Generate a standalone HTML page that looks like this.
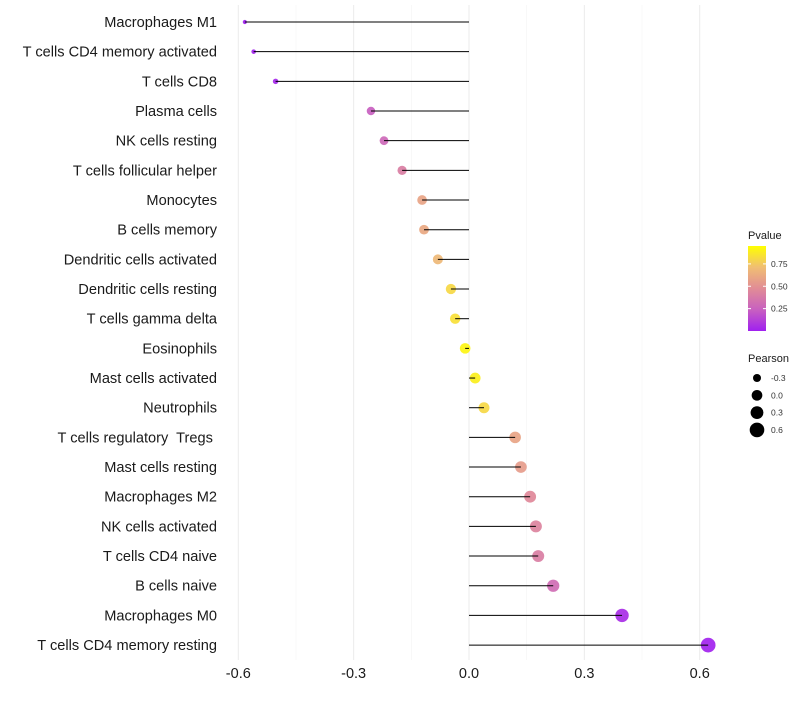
<!DOCTYPE html>
<html><head><meta charset="utf-8"><style>
body{margin:0;background:#fff;font-family:"Liberation Sans",sans-serif}
text{white-space:pre}
</style></head><body>
<svg id="chart" width="800" height="700" xmlns="http://www.w3.org/2000/svg" font-family="Liberation Sans, sans-serif"></svg>
<script>
const categories=["Macrophages M1","T cells CD4 memory activated","T cells CD8","Plasma cells","NK cells resting","T cells follicular helper","Monocytes","B cells memory","Dendritic cells activated","Dendritic cells resting","T cells gamma delta","Eosinophils","Mast cells activated","Neutrophils","T cells regulatory  Tregs ","Mast cells resting","Macrophages M2","NK cells activated","T cells CD4 naive","B cells naive","Macrophages M0","T cells CD4 memory resting"];
const pearson=[-0.583,-0.56,-0.503,-0.255,-0.221,-0.174,-0.122,-0.117,-0.081,-0.047,-0.036,-0.010,0.016,0.039,0.12,0.135,0.159,0.174,0.18,0.219,0.398,0.622];
const pvalue=[0.0,0.01,0.03,0.25,0.3,0.42,0.62,0.64,0.72,0.85,0.88,0.96,0.94,0.85,0.62,0.58,0.48,0.45,0.42,0.32,0.05,0.01];
const xTicks=[-0.6,-0.3,0.0,0.3,0.6];
const xTickLabels=["-0.6","-0.3","0.0","0.3","0.6"];
const legendPvals=[0.25,0.5,0.75];
const legendSizes=[-0.3,0.0,0.3,0.6];

const svg=document.getElementById('chart');
const NS="http://www.w3.org/2000/svg";
function mk(t,a,p){const e=document.createElementNS(NS,t);for(const k in a)e.setAttribute(k,a[k]);(p||svg).appendChild(e);return e;}
const xs=v=>469+v*384.5;
const ys=i=>22+i*29.67;
const rs=v=>Math.sqrt(Math.max(3,28.5+v*41.5));
const stops=[[0,[160,32,240]],[0.25,[200,96,192]],[0.5,[225,140,150]],[0.75,[240,190,115]],[1,[255,255,0]]];
function col(p){for(let i=0;i<stops.length-1;i++){const a=stops[i],b=stops[i+1];if(p<=b[0]){const t=(p-a[0])/(b[0]-a[0]);const c=a[1].map((v,j)=>Math.round(v+(b[1][j]-v)*t));return`rgb(${c})`;}}return'rgb(255,255,0)';}

for(let k=0;k<xTicks.length;k++){
  const g=mk('line',{x1:xs(xTicks[k]),x2:xs(xTicks[k]),y1:5,y2:660,stroke:'#ebebeb','stroke-width':1});
  
  if(k<xTicks.length-1){const m=(xTicks[k]+xTicks[k+1])/2;
    const g2=mk('line',{x1:xs(m),x2:xs(m),y1:5,y2:660,stroke:'#f4f4f4','stroke-width':0.6});
    }
  const t=mk('text',{x:xs(xTicks[k]),y:678,'text-anchor':'middle','font-size':14.5,fill:'#1a1a1a'});
  t.textContent=xTickLabels[k];
  
}
categories.forEach((c,i)=>{
  const y=ys(i);
  const t=mk('text',{x:217,y:y+5,'text-anchor':'end','font-size':14.6,fill:'#1a1a1a'});
  t.textContent=c;
  
  const d=mk('circle',{cx:xs(pearson[i]),cy:y,r:rs(pearson[i]),fill:col(pvalue[i]),'fill-opacity':0.92});
  
  const l=mk('line',{x1:xs(0),x2:xs(pearson[i]),y1:y,y2:y,stroke:'#000','stroke-width':1});
  
});
const lt=mk('text',{x:748,y:239,'font-size':11,fill:'#1a1a1a'});lt.textContent='Pvalue';

const defs=mk('defs',{});const gr=mk('linearGradient',{id:'pg',x1:0,y1:1,x2:0,y2:0},defs);
stops.forEach(s=>mk('stop',{offset:s[0],'stop-color':`rgb(${s[1]})`},gr));
const cb=mk('rect',{x:748,y:246,width:18,height:85,fill:'url(#pg)'});

const pY=p=>331-(p-0.0)*(85/0.95);
legendPvals.forEach(p=>{
  const t=mk('text',{x:771,y:pY(p)+3,'font-size':8.5,fill:'#333'});t.textContent=p.toFixed(2);
  
  mk('line',{x1:748,x2:751,y1:pY(p),y2:pY(p),stroke:'#fff'});mk('line',{x1:763,x2:766,y1:pY(p),y2:pY(p),stroke:'#fff'});
});
const st=mk('text',{x:748,y:362,'font-size':11,fill:'#1a1a1a'});st.textContent='Pearson';

legendSizes.forEach((v,i)=>{
  const y=378+i*17.3;
  const c=mk('circle',{cx:757,cy:y,r:rs(v),fill:'#000'});
  
  const t=mk('text',{x:771,y:y+3,'font-size':8.5,fill:'#333'});t.textContent=v.toFixed(1);
  
});
</script>
</body></html>
